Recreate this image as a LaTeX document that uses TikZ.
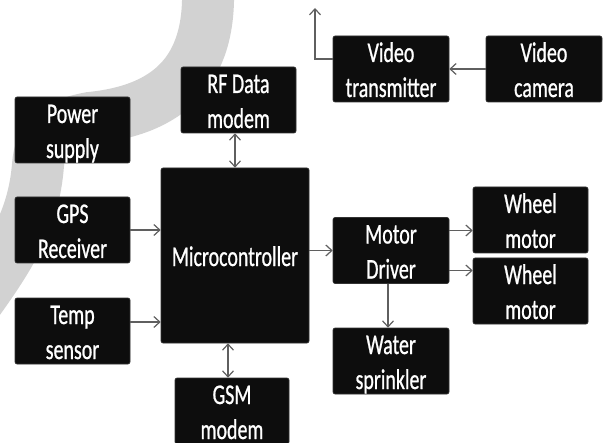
\documentclass[tikz,border=0pt]{standalone}
\usepackage{fontspec}
\newfontfamily\boxfont[FakeStretch=0.7,FakeBold=0.8]{Carlito}
\usetikzlibrary{arrows.meta}
\newcommand\mystrut{\rule[-5pt]{0pt}{31pt}}
\newcommand\twol[2]{\mystrut#1\\\mystrut#2}
\definecolor{wmgray}{RGB}{210,210,210}
\definecolor{lnk}{RGB}{95,95,95}
\tikzset{
  blk/.style={fill=black!95, draw=black!80, line width=0.6pt, rounded corners=2pt,
    inner sep=0pt, text=white, align=center,
    font=\boxfont\fontsize{28.5}{35}\selectfont,
    minimum width=115pt, minimum height=64pt},
  conn/.style={draw=lnk, line width=1.2pt, -{Straight Barb[length=6pt,width=11pt]}},
  dconn/.style={draw=lnk, line width=1.2pt, {Straight Barb[length=6pt,width=11pt]}-{Straight Barb[length=6pt,width=11pt]}}
}
\begin{document}
\begin{tikzpicture}[x=1pt,y=1pt]
\useasboundingbox (0,0) rectangle (604,-443);
\begin{scope}
\clip (0,0) rectangle (604,-443);
\draw[wmgray, line width=52pt] (208,10) .. controls (210,-70) and (170,-110) .. (90,-118)
  .. controls (52,-125) and (40,-140) .. (38,-165)
  .. controls (34,-215) and (15,-250) .. (-25,-305);
\end{scope}
\node[blk] (pow) at (72.5,-130) {\twol{Power}{supply}};
\node[blk] (rf) at (238.5,-100) {\twol{RF Data}{modem}};
\node[blk, minimum width=148pt, minimum height=175pt] (mcu) at (235,-255.5) {\mystrut Microcontroller};
\node[blk] (gps) at (72.5,-230) {\twol{GPS}{Receiver}};
\node[blk] (temp) at (72.5,-331) {\twol{Temp}{sensor}};
\node[blk, minimum width=114pt] (gsm) at (232,-411) {\twol{GSM}{modem}};
\node[blk, minimum width=116pt] (vtx) at (391,-69) {\twol{Video}{transmitter}};
\node[blk, minimum width=116pt] (vcam) at (544,-69) {\twol{Video}{camera}};
\node[blk, minimum width=116pt, minimum height=63pt] (md) at (391,-250.5) {\twol{Motor}{Driver}};
\node[blk] (w1) at (530.5,-220) {\twol{Wheel}{motor}};
\node[blk] (w2) at (530.5,-291) {\twol{Wheel}{motor}};
\node[blk, minimum width=116pt] (ws) at (391,-361) {\twol{Water}{sprinkler}};
\coordinate (up) at (315,-8);
\draw[conn] (vcam.west) -- (vtx.west -| vtx.east);
\draw[conn] ([yshift=10pt]vtx.west) -| (up);
\draw[dconn] (mcu.north |- rf.south) -- (mcu.north);
\draw[conn] (gps.east) -- (gps.east -| mcu.west);
\draw[conn] ([yshift=9pt]temp.east) -- ([yshift=9pt]temp.east -| mcu.west);
\draw[conn] (mcu.east |- md.west) -- (md.west);
\draw[dconn] ([xshift=-4pt]gsm.north |- mcu.south) -- ([xshift=-4pt]gsm.north);
\draw[conn] ([yshift=20pt]md.east) -- ([yshift=20pt]md.east -| w1.west);
\draw[conn] ([yshift=-20pt]md.east) -- ([yshift=-20pt]md.east -| w2.west);
\draw[conn] ([xshift=-3pt]md.south) -- ([xshift=-3pt]md.south |- ws.north);
\end{tikzpicture}
\end{document}
